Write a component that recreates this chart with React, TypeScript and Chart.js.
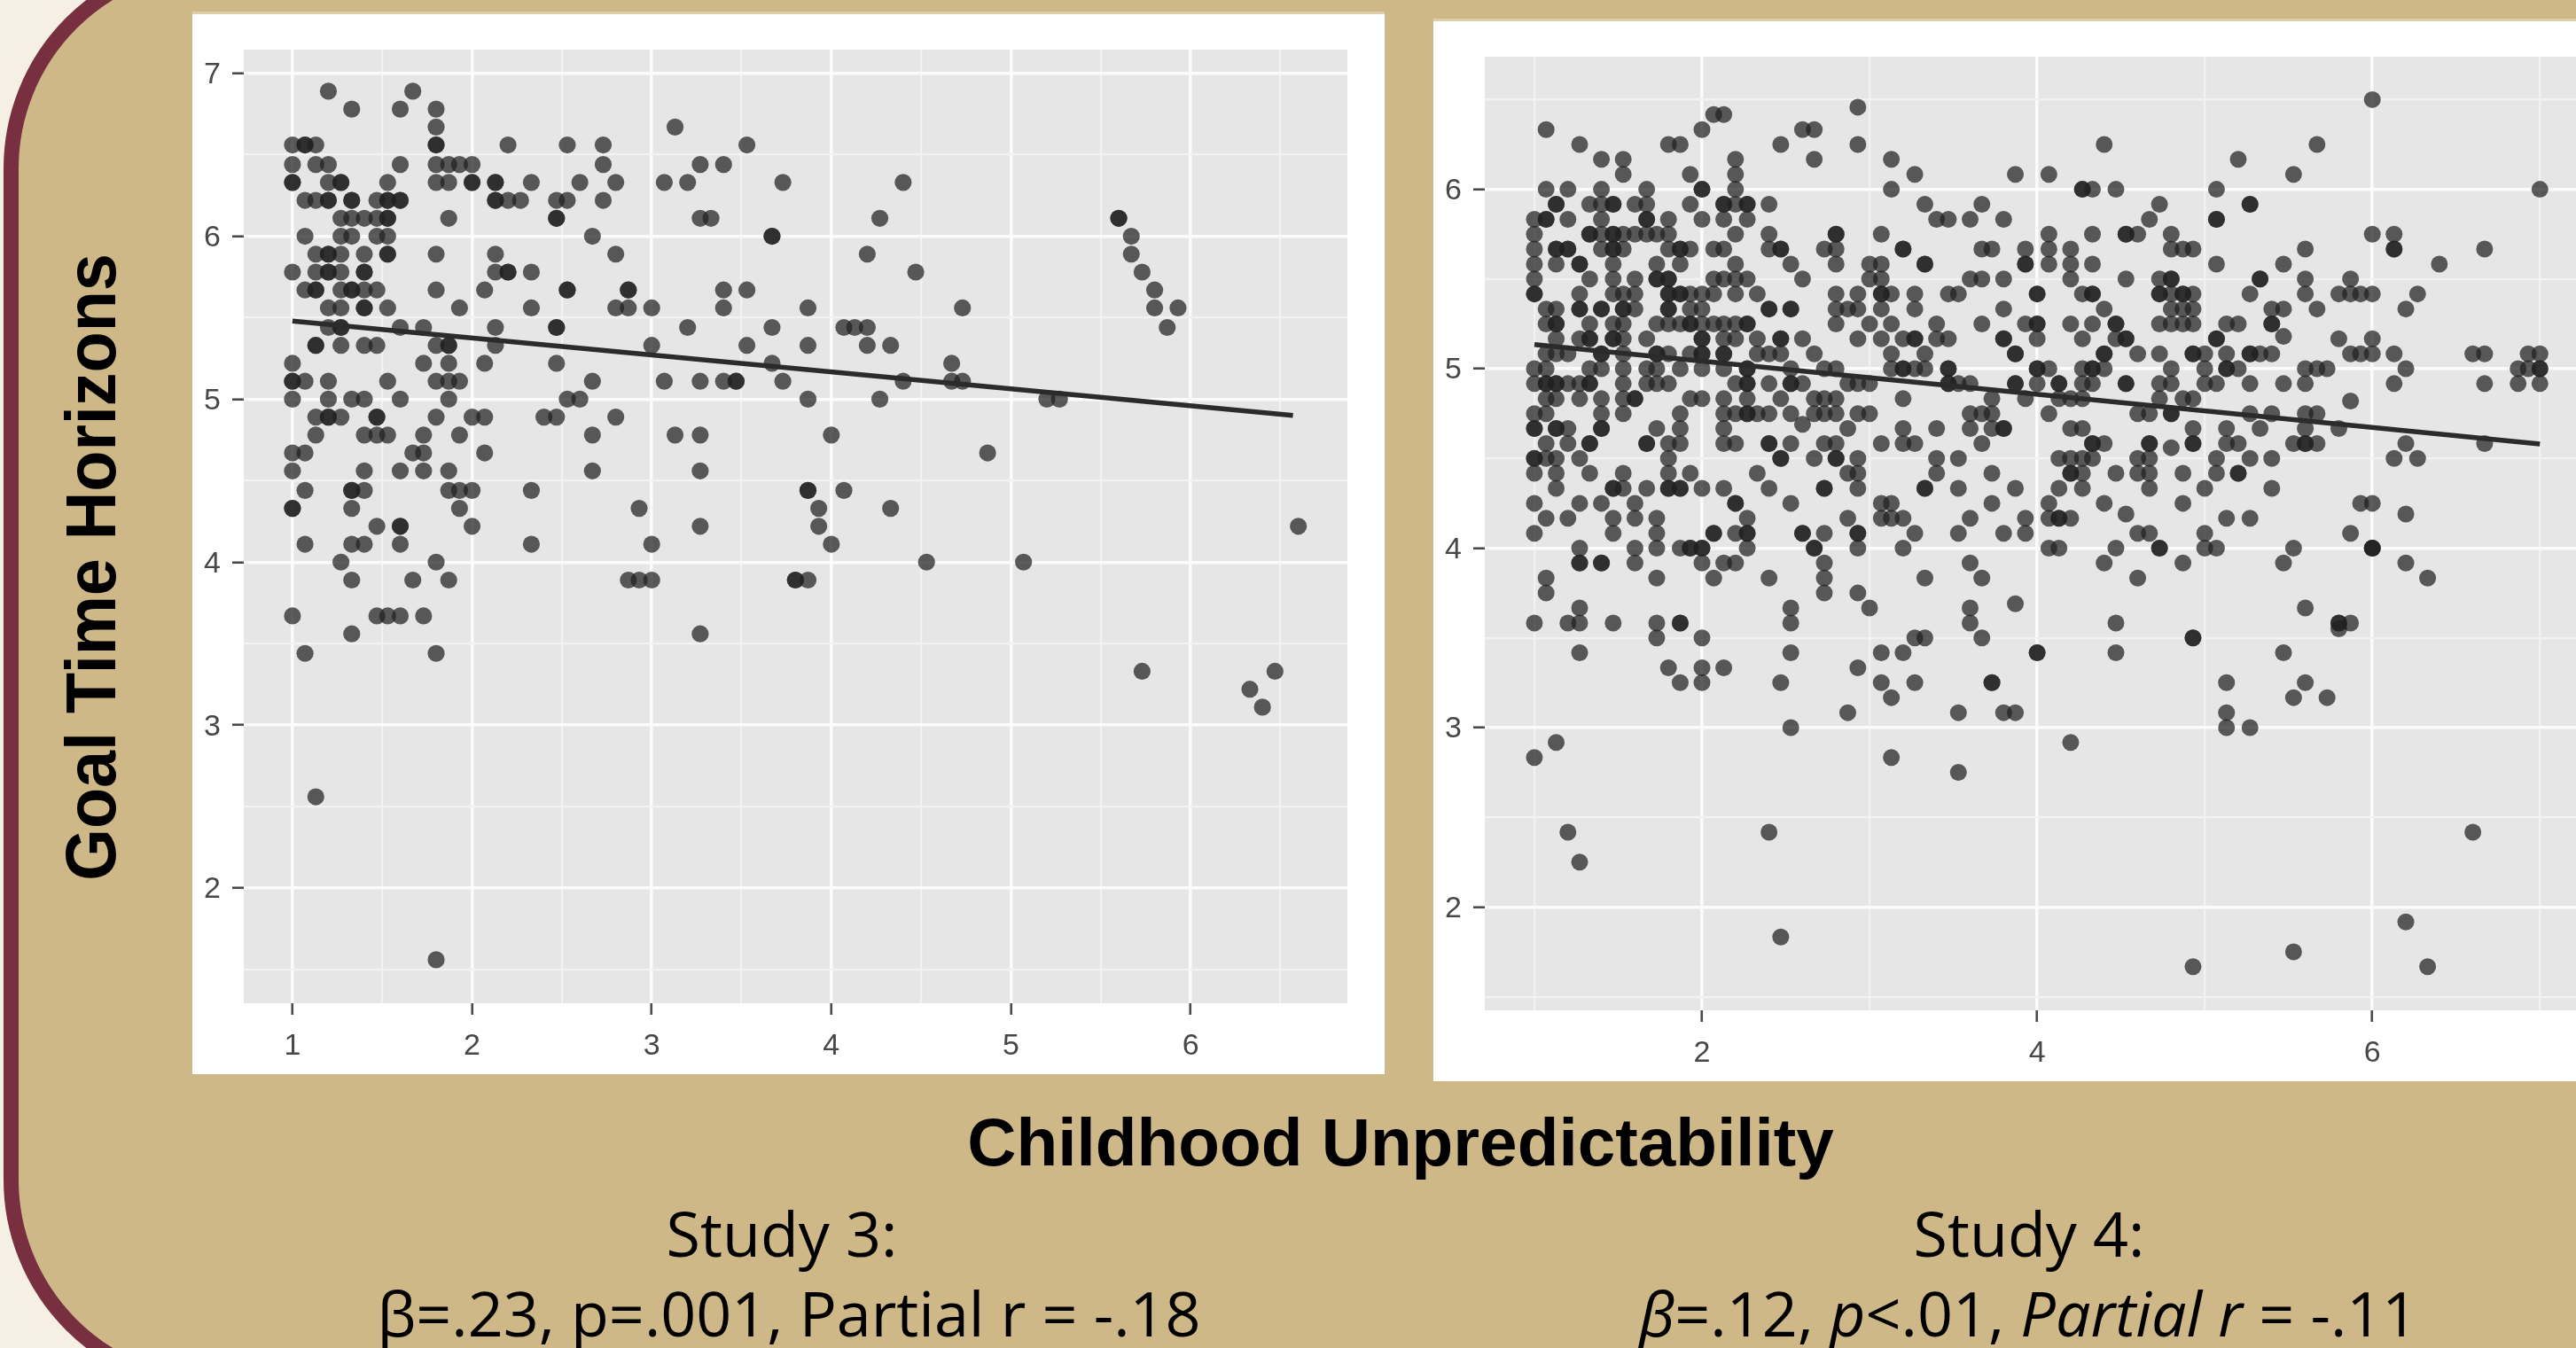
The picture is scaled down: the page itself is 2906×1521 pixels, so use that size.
import React, { useEffect, useRef } from "react";
import { Chart, registerables } from "chart.js";

Chart.register(...registerables);

const study3YLevels = [6.89, 6.78, 6.67, 6.56, 6.44, 6.33, 6.22, 6.11, 6.0, 5.89, 5.78, 5.67, 5.56, 5.44, 5.33, 5.22, 5.11, 5.0, 4.89, 4.78, 4.67, 4.56, 4.44, 4.33, 4.22, 4.11, 4.0, 3.89, 3.67, 3.56, 3.44, 3.33, 3.22, 3.11, 2.56, 1.56];
const study3XByLevel = [
  [1.2, 1.67],
  [1.33, 1.6, 1.8],
  [1.8, 3.13],
  [1, 1.07, 1.07, 1.13, 1.8, 1.8, 2.2, 2.53, 2.73, 3.53],
  [1, 1.13, 1.2, 1.6, 1.8, 1.87, 1.93, 2, 2.73, 3.27, 3.4],
  [1, 1, 1.2, 1.27, 1.27, 1.53, 1.8, 1.87, 2, 2, 2.13, 2.13, 2.33, 2.6, 2.8, 3.07, 3.2, 3.73, 4.4],
  [1.07, 1.13, 1.2, 1.2, 1.33, 1.33, 1.47, 1.53, 1.53, 1.6, 1.6, 2.13, 2.13, 2.2, 2.27, 2.47, 2.53, 2.73],
  [1.27, 1.33, 1.4, 1.47, 1.53, 1.53, 1.87, 2.47, 2.47, 3.27, 3.33, 4.27, 5.6, 5.6],
  [1.07, 1.27, 1.33, 1.47, 1.53, 2.67, 3.67, 3.67, 5.67],
  [1.13, 1.2, 1.2, 1.27, 1.4, 1.53, 1.53, 1.8, 2.13, 2.8, 4.2, 5.67],
  [1, 1.13, 1.2, 1.2, 1.27, 1.4, 1.4, 2.13, 2.2, 2.2, 2.33, 4.47, 5.73],
  [1.07, 1.13, 1.13, 1.27, 1.33, 1.33, 1.4, 1.47, 1.8, 2.07, 2.53, 2.53, 2.87, 2.87, 3.4, 3.53, 5.8],
  [1.2, 1.27, 1.4, 1.4, 1.53, 1.93, 2.33, 2.8, 2.87, 3, 3.4, 3.87, 4.73, 5.8, 5.93],
  [1.2, 1.27, 1.27, 1.6, 1.73, 2.13, 2.47, 2.47, 3.2, 3.67, 4.07, 4.13, 4.2, 5.87],
  [1.13, 1.13, 1.27, 1.4, 1.47, 1.8, 1.87, 1.87, 2.13, 3, 3.53, 3.87, 4.2, 4.33],
  [1, 1.73, 1.87, 2.07, 2.47, 3.67, 4.67],
  [1, 1, 1.07, 1.2, 1.53, 1.8, 1.87, 1.93, 2.67, 3.07, 3.27, 3.4, 3.47, 3.47, 3.73, 4.4, 4.67, 4.73],
  [1, 1.2, 1.33, 1.4, 1.6, 1.87, 2.53, 2.6, 3.87, 4.27, 5.2, 5.27],
  [1.13, 1.2, 1.2, 1.27, 1.47, 1.47, 1.8, 2, 2.07, 2.4, 2.47, 2.8],
  [1.13, 1.4, 1.47, 1.53, 1.73, 1.93, 2.67, 3.13, 3.27, 4],
  [1, 1.07, 1.67, 1.73, 2.07, 4.87],
  [1, 1.4, 1.6, 1.73, 1.87, 2.67, 3.27],
  [1.07, 1.33, 1.33, 1.4, 1.87, 1.93, 2, 2.33, 3.87, 3.87, 4.07],
  [1, 1, 1.33, 1.93, 2.93, 3.93, 4.33],
  [1.47, 1.6, 1.6, 2, 3.27, 3.93, 6.6],
  [1.07, 1.33, 1.4, 1.6, 2.33, 3, 4],
  [1.27, 1.8, 4.53, 5.07],
  [1.33, 1.67, 1.87, 2.87, 2.93, 3, 3.8, 3.8, 3.87],
  [1, 1.47, 1.53, 1.6, 1.73],
  [1.33, 3.27],
  [1.07, 1.8],
  [5.73, 6.47],
  [6.33],
  [6.4],
  [1.13],
  [1.8],
];
const study3TrendX = [1, 6.57];
const study3TrendY = [5.48, 4.9];
const study3XMajor = [1, 2, 3, 4, 5, 6];
const study3XMinor = [1.5, 2.5, 3.5, 4.5, 5.5, 6.5];
const study3YMajor = [2, 3, 4, 5, 6, 7];
const study3YMinor = [1.5, 2.5, 3.5, 4.5, 5.5, 6.5];

const study4YLevels = [6.5, 6.458, 6.417, 6.333, 6.25, 6.167, 6.083, 6.0, 5.917, 5.833, 5.75, 5.667, 5.583, 5.5, 5.417, 5.333, 5.25, 5.18, 5.167, 5.083, 5.0, 4.917, 4.833, 4.82, 4.75, 4.69, 4.667, 4.583, 4.56, 4.5, 4.417, 4.333, 4.25, 4.19, 4.167, 4.083, 4.0, 3.917, 3.833, 3.75, 3.69, 3.667, 3.583, 3.55, 3.5, 3.417, 3.333, 3.25, 3.167, 3.083, 3.0, 2.917, 2.833, 2.75, 2.417, 2.25, 1.917, 1.833, 1.75, 1.667];
const study4XByLevel = [
  [6],
  [2.93],
  [2.07, 2.13],
  [1.07, 2, 2.6, 2.67],
  [1.27, 1.8, 1.87, 2.47, 2.93, 4.4, 5.67],
  [1.4, 1.53, 2.2, 2.67, 3.13, 5.2],
  [1.53, 1.93, 2.2, 3.27, 3.87, 4.07, 5.53],
  [1.07, 1.2, 1.4, 1.67, 2, 2, 2.2, 3.13, 4.27, 4.27, 4.33, 4.47, 5.07, 7],
  [1.13, 1.13, 1.33, 1.4, 1.47, 1.47, 1.6, 1.67, 1.93, 2.13, 2.13, 2.2, 2.27, 2.27, 2.4, 3.33, 3.67, 4.73, 5.27, 5.27],
  [1, 1.07, 1.07, 1.2, 1.4, 1.67, 1.67, 1.8, 2, 2.13, 2.27, 3.4, 3.47, 3.6, 3.8, 4.67, 5.07, 5.07],
  [1, 1.33, 1.33, 1.4, 1.47, 1.47, 1.53, 1.6, 1.67, 1.73, 1.8, 2.2, 2.4, 2.8, 2.8, 3.07, 4.07, 4.33, 4.53, 4.53, 4.6, 4.8, 6, 6.13],
  [1, 1.13, 1.13, 1.2, 1.2, 1.4, 1.47, 1.47, 1.53, 1.8, 1.87, 1.87, 1.93, 2.07, 2.13, 2.4, 2.47, 2.47, 2.73, 2.8, 3.2, 3.2, 3.67, 3.73, 3.93, 4.07, 4.2, 4.8, 4.87, 4.93, 5.6, 6.13, 6.13, 6.67],
  [1, 1.13, 1.27, 1.27, 1.47, 1.73, 1.87, 2.2, 2.53, 2.8, 3, 3.07, 3.33, 3.33, 3.93, 3.93, 4.07, 4.2, 4.33, 5.07, 5.47, 6.4],
  [1, 1.33, 1.47, 1.6, 1.73, 1.73, 1.8, 1.8, 2.07, 2.13, 2.2, 2.27, 2.6, 3, 3.07, 3.6, 3.67, 3.8, 4.2, 4.53, 4.73, 4.8, 4.8, 5.33, 5.33, 5.6, 5.87],
  [1, 1, 1.27, 1.47, 1.53, 1.6, 1.8, 1.8, 1.87, 1.87, 1.93, 2, 2.07, 2.2, 2.33, 2.8, 2.93, 3.07, 3.07, 3.13, 3.27, 3.47, 3.53, 4, 4, 4.27, 4.33, 4.33, 4.73, 4.73, 4.8, 4.87, 4.87, 4.93, 5.27, 5.6, 5.8, 5.87, 5.93, 6, 6.27],
  [1.07, 1.13, 1.27, 1.27, 1.4, 1.4, 1.53, 1.53, 1.6, 1.8, 1.8, 1.93, 2, 2.4, 2.4, 2.53, 2.53, 2.8, 2.87, 2.93, 3.07, 3.27, 3.8, 4.4, 4.8, 4.87, 4.93, 5.4, 5.47, 5.67, 6.2],
  [1.07, 1.13, 1.13, 1.33, 1.47, 1.53, 1.73, 1.8, 1.87, 1.93, 1.93, 2, 2.07, 2.13, 2.2, 2.27, 2.27, 2.8, 3, 3.13, 3.4, 3.67, 3.93, 4, 4, 4.2, 4.33, 4.47, 4.47, 4.73, 4.8, 4.87, 4.93, 5.13, 5.2, 5.4, 5.4],
  [5.47],
  [1.13, 1.27, 1.33, 1.33, 1.47, 1.47, 1.53, 1.67, 2, 2, 2.13, 2.2, 2.33, 2.47, 2.47, 2.6, 2.93, 3.07, 3.2, 3.27, 3.27, 3.4, 3.47, 3.8, 3.8, 4, 4.27, 4.47, 4.53, 4.53, 5.07, 5.07, 5.8, 6],
  [1.07, 1.13, 1.2, 1.4, 1.4, 1.53, 1.73, 1.73, 1.8, 1.93, 2, 2, 2.13, 2.13, 2.33, 2.4, 2.47, 2.67, 3.13, 3.33, 3.87, 3.87, 4.4, 4.4, 4.6, 4.73, 4.93, 4.93, 5, 5.13, 5.27, 5.27, 5.33, 5.4, 5.87, 5.93, 6, 6.13, 6.6, 6.67, 6.93, 7],
  [1, 1.07, 1.33, 1.4, 1.53, 1.67, 1.73, 1.87, 2, 2.13, 2.27, 2.27, 2.53, 2.73, 2.8, 3.13, 3.2, 3.2, 3.27, 3.33, 3.47, 3.47, 4, 4, 4.07, 4.27, 4.33, 4.33, 4.4, 4.8, 5, 5.13, 5.13, 5.2, 5.6, 5.67, 5.73, 6.2, 6.87, 6.93, 7, 7],
  [1, 1.07, 1.07, 1.13, 1.13, 1.2, 1.27, 1.33, 1.33, 1.53, 1.67, 1.73, 1.8, 2.2, 2.27, 2.27, 2.4, 2.53, 2.53, 2.6, 2.87, 2.93, 3, 3.47, 3.47, 3.53, 3.6, 3.87, 3.87, 4, 4.13, 4.13, 4.27, 4.33, 4.53, 4.53, 4.73, 4.8, 5, 5.07, 5.27, 5.47, 5.6, 6.13, 6.67, 6.87, 7],
  [1.07, 1.13, 1.27, 1.4, 1.53, 1.6, 1.6, 1.93, 2, 2.13, 2.27, 2.47, 2.67, 2.73, 2.8, 3.2, 3.73, 3.93, 4.13, 4.2, 4.27, 4.73, 4.87, 4.93],
  [5.87],
  [1, 1.07, 1.4, 1.53, 1.87, 2.13, 2.2, 2.27, 2.27, 2.33, 2.4, 2.53, 2.67, 2.73, 2.8, 2.93, 3, 3.6, 3.67, 3.73, 4.07, 4.6, 4.67, 4.8, 4.8, 5.27, 5.4, 5.6, 5.67],
  [2.6],
  [1, 1, 1.13, 1.13, 1.2, 1.4, 1.4, 1.73, 1.87, 2.13, 2.87, 3.2, 3.4, 3.6, 3.73, 3.8, 3.8, 4.2, 4.27, 4.93, 5.13, 5.33, 5.6, 5.8],
  [1.07, 1.2, 1.33, 1.33, 1.67, 1.67, 1.8, 1.87, 2.13, 2.2, 2.4, 2.4, 2.53, 2.73, 2.8, 3.07, 3.2, 3.27, 3.67, 4.33, 4.33, 4.4, 4.67, 4.67, 4.93, 4.93, 5.13, 5.2, 5.53, 5.6, 5.6, 5.67, 6.2, 6.67],
  [4.8],
  [1, 1, 1.07, 1.13, 1.27, 1.8, 2.47, 2.47, 2.67, 2.8, 2.8, 2.93, 3.4, 3.53, 4.13, 4.2, 4.27, 4.33, 4.6, 4.67, 5.07, 5.27, 5.4, 6.13, 6.27],
  [1, 1.13, 1.33, 1.53, 1.8, 1.93, 2.33, 2.87, 2.93, 3.4, 3.73, 4.2, 4.2, 4.27, 4.47, 4.6, 4.67, 4.87, 5.07, 5.2, 5.2],
  [1.13, 1.47, 1.47, 1.53, 1.67, 1.8, 1.8, 1.87, 1.87, 2, 2.13, 2.4, 2.73, 2.73, 2.93, 3.33, 3.33, 3.53, 3.87, 4.13, 4.27, 4.67, 5, 5.4],
  [1, 1.27, 1.4, 1.6, 2.2, 2.2, 2.53, 3.07, 3.13, 3.73, 4.07, 4.4, 4.87, 5.93, 6],
  [4.53, 6.2],
  [1.07, 1.2, 1.47, 1.6, 1.73, 2.27, 2.87, 3.07, 3.13, 3.2, 3.6, 3.93, 4.07, 4.13, 4.13, 4.2, 5.13, 5.27],
  [1, 1.47, 1.73, 2.07, 2.07, 2.2, 2.27, 2.27, 2.6, 2.6, 2.73, 2.93, 2.93, 3.27, 3.53, 3.8, 3.93, 4.6, 4.67, 5, 5.87],
  [1.27, 1.6, 1.73, 1.87, 1.93, 1.93, 2, 2, 2.27, 2.67, 2.67, 2.93, 3.2, 4.07, 4.13, 4.47, 4.73, 4.73, 5, 5.07, 5.53, 6, 6, 6],
  [1.27, 1.27, 1.4, 1.4, 1.6, 2, 2.13, 2.2, 2.73, 3.6, 4.4, 4.87, 5.47, 6.2],
  [1.07, 1.73, 2.07, 2.4, 2.73, 3.33, 3.67, 4.6, 6.33],
  [1.07, 2.73, 2.93],
  [3.87],
  [1.27, 2.53, 3, 3.6, 5.6],
  [1, 1.2, 1.27, 1.47, 1.73, 1.87, 1.87, 2.53, 3.6, 4.47, 5.8, 5.8, 5.87],
  [5.8],
  [1.73, 2, 3.27, 3.33, 3.67, 4.93, 4.93],
  [1.27, 2.53, 3.07, 3.2, 4, 4, 4.47, 5.47],
  [1.8, 2, 2.13, 2.93],
  [1.87, 2, 2.47, 3.07, 3.27, 3.73, 3.73, 5.13, 5.6],
  [3.13, 5.53, 5.73],
  [2.87, 3.53, 3.8, 3.87, 5.13],
  [2.53, 5.13, 5.27],
  [1.13, 4.2],
  [1, 3.13],
  [3.53],
  [1.2, 2.4, 6.6],
  [1.27],
  [6.2],
  [2.47],
  [5.53],
  [4.93, 6.33],
];
const study4TrendX = [1, 7];
const study4TrendY = [5.135, 4.58];
const study4XMajor = [2, 4, 6];
const study4XMinor = [1, 3, 5, 7];
const study4YMajor = [2, 3, 4, 5, 6];
const study4YMinor = [1.5, 2.5, 3.5, 4.5, 5.5, 6.5];

const FONT = "'Liberation Sans', Arial, sans-serif";

type PlotProps = {
  left: number; top: number; width: number; height: number;
  plot: { left: number; right: number; top: number; bottom: number };
  xRange: [number, number]; yRange: [number, number];
  yLevels: number[]; xByLevel: number[][];
  trendX: number[]; trendY: number[];
  xMajor: number[]; xMinor: number[]; yMajor: number[]; yMinor: number[];
  pointRadius: number;
};

function Plot(p: PlotProps) {
  const ref = useRef<HTMLCanvasElement>(null);
  useEffect(() => {
    const points: { x: number; y: number }[] = [];
    p.yLevels.forEach((y, i) => p.xByLevel[i].forEach((x) => points.push({ x, y })));
    const panelFill = {
      id: "panelFill",
      beforeDraw(chart: any) {
        const { ctx, chartArea: a } = chart;
        ctx.save();
        ctx.fillStyle = "#e6e6e6";
        ctx.fillRect(a.left, a.top, a.right - a.left, a.bottom - a.top);
        ctx.restore();
      },
    };
    const axis = (major: number[], minor: number[], range: [number, number], thick: number, pos: string, padding: number, labelOffset: number) => ({
      type: "linear",
      position: pos,
      min: range[0],
      max: range[1],
      afterBuildTicks(s: any) {
        s.ticks = [...minor, ...major].sort((a, b) => a - b).map((value) => ({ value }));
      },
      afterFit(s: any) {
        if (pos === "left") s.width = thick;
        else s.height = thick;
      },
      border: { display: false },
      grid: {
        color: (c: any) => (major.includes(c.tick?.value) ? "#fbfbfb" : "#f2f2f2"),
        lineWidth: (c: any) => (major.includes(c.tick?.value) ? 3.5 : 2.2),
        tickColor: (c: any) => (major.includes(c.tick?.value) ? "#4a4a4a" : "rgba(0,0,0,0)"),
        tickWidth: 2.6,
        tickLength: 13,
        drawTicks: true,
      },
      ticks: {
        autoSkip: false,
        maxRotation: 0,
        padding,
        labelOffset,
        color: "#474747",
        font: { family: FONT, size: 34 },
        callback: (v: number) => (major.includes(v) ? String(v) : ""),
      },
    });
    const chart = new Chart(ref.current as HTMLCanvasElement, {
      type: "scatter",
      data: {
        datasets: [
          {
            type: "line",
            data: p.trendX.map((x, i) => ({ x, y: p.trendY[i] })),
            borderColor: "#2b2b2b",
            borderWidth: 5.5,
            pointRadius: 0,
            showLine: true,
            order: 0,
          },
          {
            type: "scatter",
            data: points,
            backgroundColor: "rgba(32,32,32,0.72)",
            borderWidth: 0,
            pointRadius: p.pointRadius,
            order: 1,
          },
        ],
      } as any,
      plugins: [panelFill],
      options: {
        animation: false,
        responsive: false,
        devicePixelRatio: 1,
        layout: {
          padding: {
            left: 0,
            top: p.plot.top,
            right: p.width - p.plot.right,
            bottom: 0,
          },
        },
        plugins: { legend: { display: false }, tooltip: { enabled: false } },
        scales: {
          x: axis(p.xMajor, p.xMinor, p.xRange, p.height - p.plot.bottom, "bottom", 15, 0),
          y: axis(p.yMajor, p.yMinor, p.yRange, p.plot.left, "left", 13, 2),
        },
      } as any,
    });
    return () => chart.destroy();
  }, []);
  return (
    <div style={{ position: "absolute", left: p.left, top: p.top, width: p.width, height: p.height, background: "#fff", boxShadow: "0 -3px 0 #dccfa9" }}>
      <canvas ref={ref} width={p.width} height={p.height} style={{ display: "block" }} />
    </div>
  );
}

const textBase: React.CSSProperties = { position: "absolute", color: "#000", whiteSpace: "nowrap", lineHeight: 1 };

function Caption({ cx, baseline, children }: { cx: number; baseline: number; children: React.ReactNode }) {
  return (
    <div style={{ ...textBase, left: cx, top: baseline - 61, transform: "translateX(-50%)", fontFamily: "'Open Sans', sans-serif", fontSize: 70 }}>
      {children}
    </div>
  );
}

export default function App() {
  return (
    <div style={{ position: "fixed", left: 0, top: 0, width: 2906, height: 1521, overflow: "hidden", background: "#f5f0e3" }}>
      <div style={{ position: "absolute", left: 4, top: -50, width: 3100, height: 1621, boxSizing: "border-box", background: "#ceb888", border: "17px solid #782f40", borderRadius: 240 }} />
      <Plot
        left={217} top={16} width={1345} height={1196}
        plot={{ left: 58, right: 1303, top: 40, bottom: 1116 }}
        xRange={[0.729, 6.873]} yRange={[1.293, 7.145]}
        yLevels={study3YLevels} xByLevel={study3XByLevel}
        trendX={study3TrendX} trendY={study3TrendY}
        xMajor={study3XMajor} xMinor={study3XMinor} yMajor={study3YMajor} yMinor={study3YMinor}
        pointRadius={9.6}
      />
      <Plot
        left={1617} top={24} width={1345} height={1196}
        plot={{ left: 58, right: 1305, top: 40, bottom: 1116 }}
        xRange={[0.704, 7.3]} yRange={[1.424, 6.739]}
        yLevels={study4YLevels} xByLevel={study4XByLevel}
        trendX={study4TrendX} trendY={study4TrendY}
        xMajor={study4XMajor} xMinor={study4XMinor} yMajor={study4YMajor} yMinor={study4YMinor}
        pointRadius={9.5}
      />
      <div style={{ ...textBase, left: 103, top: 640, transform: "translate(-50%,-50%) rotate(-90deg) scaleY(1.06)", fontFamily: FONT, fontWeight: 700, fontSize: 75.5 }}>
        Goal Time Horizons
      </div>
      <div style={{ ...textBase, left: 1580, top: 1251, transform: "translateX(-50%)", fontFamily: FONT, fontWeight: 700, fontSize: 76.5 }}>
        Childhood Unpredictability
      </div>
      <Caption cx={882} baseline={1417}>Study 3:</Caption>
      <Caption cx={890} baseline={1507}>β=.23, p=.001, Partial r = -.18</Caption>
      <Caption cx={2289} baseline={1417}>Study 4:</Caption>
      <Caption cx={2288} baseline={1507}>
        <i>β</i>=.12, <i>p</i>&lt;.01, <i>Partial r</i> = -.11
      </Caption>
    </div>
  );
}
